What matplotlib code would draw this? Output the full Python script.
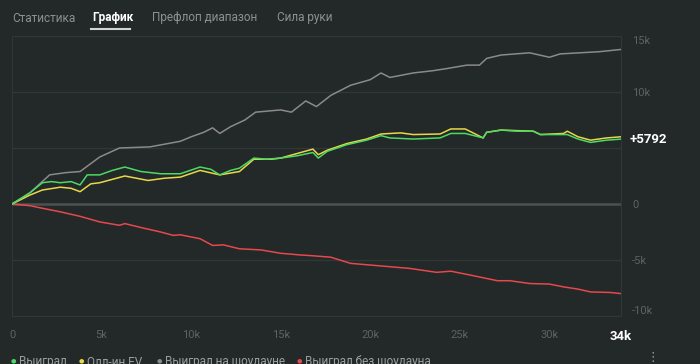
import matplotlib.pyplot as plt

plt.rcParams['font.family'] = ['Roboto', 'DejaVu Sans']

BG = '#232828'
GRID = '#313737'
DIM = '#5c6363'

# hands (thousands) and winnings (thousands)
green_x = [0, 0.5, 1.0, 1.7, 2.2, 2.7, 3.3, 3.8, 4.2, 4.9, 5.6, 6.3, 7.2, 8.3, 9.4, 10.5, 11.1, 11.6,
           12.2, 12.7, 13.5, 14.2, 15.0, 15.9, 16.8, 17.1, 17.6, 18.7, 19.8, 20.6, 21.1, 22.4, 23.9,
           24.5, 25.3, 26.3, 26.5, 27.3, 28.2, 29.1, 29.5, 30.2, 31.0, 31.6, 32.3, 33.2, 34.0]
green_y = [0, 0.5, 1.0, 1.9, 2.0, 1.9, 2.0, 1.7, 2.6, 2.6, 3.0, 3.3, 2.9, 2.7, 2.7, 3.3, 3.1, 2.6,
           3.0, 3.2, 4.1, 4.0, 4.1, 4.3, 4.6, 4.1, 4.7, 5.3, 5.7, 6.1, 5.9, 5.8, 5.9,
           6.3, 6.3, 5.9, 6.4, 6.6, 6.5, 6.5, 6.2, 6.2, 6.2, 5.8, 5.5, 5.7, 5.792]

yellow_x = [0, 0.5, 1.0, 1.7, 2.7, 3.3, 3.8, 4.4, 4.9, 5.6, 6.3, 7.6, 8.5, 9.4, 10.5, 11.6, 12.7,
            13.5, 14.5, 15.0, 15.9, 16.8, 17.1, 17.6, 18.7, 19.8, 20.6, 21.7, 22.4, 23.9, 24.5,
            25.3, 26.3, 26.5, 27.3, 29.1, 29.5, 30.8, 31.0, 31.6, 32.3, 33.2, 34.0]
yellow_y = [0, 0.4, 0.8, 1.25, 1.5, 1.4, 1.1, 1.8, 1.9, 2.2, 2.5, 2.1, 2.3, 2.4, 3.0, 2.6, 2.9,
            4.0, 4.0, 4.1, 4.5, 4.9, 4.4, 4.8, 5.4, 5.8, 6.25, 6.35, 6.2, 6.25, 6.7,
            6.7, 5.9, 6.4, 6.6, 6.5, 6.2, 6.3, 6.5, 6.0, 5.7, 5.9, 6.0]

gray_x = [0, 1.0, 2.1, 3.0, 3.8, 4.9, 6.0, 7.7, 9.4, 10.0, 10.7, 11.2, 11.6, 12.2, 13.0, 13.6,
          15.0, 15.6, 16.4, 17.0, 17.8, 18.9, 20.0, 20.6, 21.1, 22.4, 23.5, 24.3, 25.4, 26.1,
          26.5, 27.3, 28.9, 30.0, 30.6, 31.7, 32.8, 34.0]
gray_y = [0, 1.0, 2.6, 2.8, 2.9, 4.2, 5.0, 5.1, 5.6, 6.0, 6.4, 6.8, 6.3, 6.9, 7.5, 8.2,
          8.4, 8.2, 9.2, 8.7, 9.7, 10.6, 11.1, 11.7, 11.3, 11.7, 11.9, 12.1, 12.4, 12.4,
          13.0, 13.3, 13.5, 13.1, 13.4, 13.5, 13.6, 13.8]

red_x = [0, 1.0, 1.6, 2.7, 3.8, 4.9, 6.0, 6.3, 7.2, 8.3, 9.0, 9.4, 10.5, 11.2, 11.8, 12.7, 13.9,
         15.0, 16.1, 16.6, 17.8, 18.9, 20.0, 21.1, 22.2, 23.7, 24.5, 25.6, 27.1, 27.8, 28.9,
         30.0, 30.8, 31.6, 32.3, 33.4, 34.0]
red_y = [0, -0.15, -0.35, -0.7, -1.1, -1.6, -1.9, -1.75, -2.1, -2.5, -2.8, -2.75, -3.1, -3.7,
         -3.65, -4.0, -4.1, -4.4, -4.55, -4.6, -4.75, -5.3, -5.45, -5.6, -5.75, -6.1, -6.0,
         -6.35, -6.85, -6.85, -7.1, -7.15, -7.4, -7.6, -7.85, -7.9, -8.0]

final_value = 5792
tabs = ['Статистика', 'График', 'Префлоп диапазон', 'Сила руки']
tab_x = [12, 92, 152, 277]
legend_labels = ['Выиграл', 'Олл-ин EV', 'Выиграл на шоудауне', 'Выиграл без шоудауна']
legend_colors = ['#4cd964', '#e8d848', '#8a8a8a', '#e5484d']
legend_x = [13, 81, 159, 299]

fig = plt.figure(figsize=(7, 3.64), dpi=100, facecolor=BG)
ax = fig.add_axes([12 / 700, 48 / 364, 609 / 700, 280 / 364], facecolor=BG)

k = lambda v: [a * 1000 for a in v]
ax.plot(k(gray_x), k(gray_y), color='#8a8a8a', lw=1.1, zorder=3)
ax.plot(k(red_x), k(red_y), color='#e5484d', lw=1.1, zorder=3)
ax.plot(k(yellow_x), k(yellow_y), color='#e8d848', lw=1.1, zorder=4)
ax.plot(k(green_x), k(green_y), color='#4cd964', lw=1.1, zorder=5)

ax.set_xlim(0, 34000)
ax.set_ylim(-10000, 15000)
ax.axhline(0, color='#4b5151', lw=1.8, zorder=2)
ax.grid(axis='y', color=GRID, lw=1)
for s in ax.spines.values():
    s.set_color(GRID)

ax.yaxis.tick_right()
ax.set_yticks([-10000, -5000, 0, 5000, 10000, 15000])
ax.set_yticklabels(['-10k', '-5k', '0', '', '10k', '15k'])  # 5k hidden by the final value tag
ax.tick_params(axis='y', length=0, pad=8, colors=DIM, labelsize=8)
ylabs = ax.get_yticklabels()
ylabs[0].set_va('bottom')
ylabs[-1].set_va('top')

ax.set_xticks([0, 5000, 10000, 15000, 20000, 25000, 30000, 34000])
ax.set_xticklabels(['0', '5k', '10k', '15k', '20k', '25k', '30k', '34k'])
ax.tick_params(axis='x', length=0, pad=10, colors=DIM, labelsize=8)
last = ax.get_xticklabels()[-1]
last.set_color('white')
last.set_fontweight('bold')
last.set_fontsize(9.5)

ax.annotate('+%d' % final_value, xy=(1, final_value), xycoords=('axes fraction', 'data'),
            xytext=(6, 0), textcoords='offset points', color='white', fontsize=9.5,
            fontweight='bold', va='center')

# tabs on top
for t, x in zip(tabs, tab_x):
    active = t == 'График'
    fig.text(x / 700, 1 - 18 / 364, t, color='white' if active else '#8c9292',
             fontsize=8.5, fontweight='bold' if active else 'normal', va='center')
fig.add_artist(plt.Line2D([91 / 700, 130 / 700], [1 - 28.5 / 364] * 2, color='#d0d4d4', lw=1.5))

# legend row, cut by bottom edge
for lab, c, x in zip(legend_labels, legend_colors, legend_x):
    fig.text(x / 700, 1 - 361 / 364, '\u25cf', color=c, fontsize=4.5, va='center', ha='center')
    fig.text((x + 6) / 700, 1 - 362 / 364, lab, color='#9aa0a0', fontsize=8.5, va='center')
fig.text(653 / 700, 1 - 358 / 364, '\u22ee', color='#9aa0a0', fontsize=9, va='center', ha='center')

fig.savefig('out.png', dpi=100, facecolor=BG)
